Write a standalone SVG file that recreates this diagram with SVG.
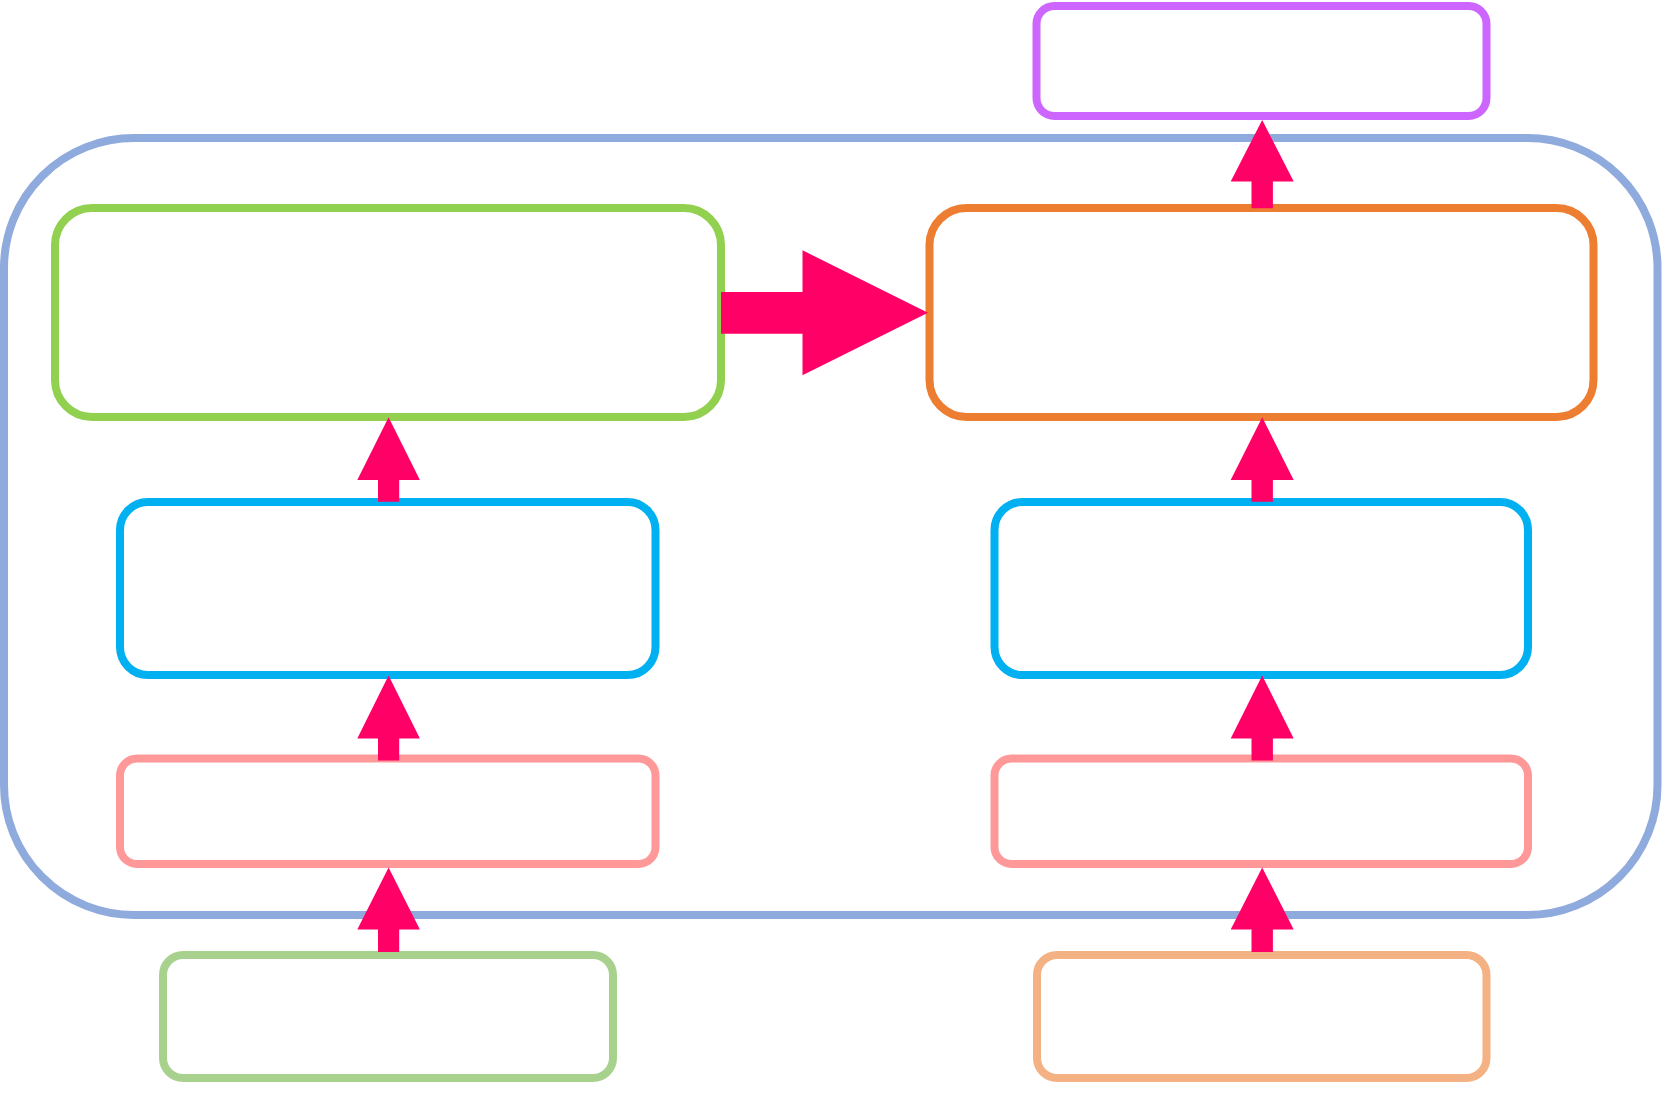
<svg xmlns="http://www.w3.org/2000/svg" width="1662" height="1096" viewBox="0 0 1662 1096">
<style>
.box{fill:none;stroke-width:8}
.arrow{fill:#FF0066;stroke:none}
</style>
<rect width="1662" height="1096" fill="#FFFFFF"/>
<g id="outer"><rect class="box" x="4" y="138" width="1653.5" height="777" rx="130" ry="130" stroke="#8FAADC"/></g>
<g id="green-main"><rect class="box" x="55" y="208" width="666" height="209" rx="37" ry="37" stroke="#92D050"/></g>
<g id="orange-main"><rect class="box" x="929.5" y="208" width="664" height="209" rx="37" ry="37" stroke="#ED7D31"/></g>
<g id="purple-top"><rect class="box" x="1036.5" y="6" width="450" height="110" rx="18" ry="18" stroke="#CC66FF"/></g>
<g id="blue-left"><rect class="box" x="120" y="502" width="535.5" height="173" rx="28" ry="28" stroke="#00B0F0"/></g>
<g id="blue-right"><rect class="box" x="994.5" y="502" width="533.5" height="173" rx="28" ry="28" stroke="#00B0F0"/></g>
<g id="pink-left"><rect class="box" x="120" y="758.5" width="535.5" height="105.5" rx="17" ry="17" stroke="#FF9999"/></g>
<g id="pink-right"><rect class="box" x="994.5" y="758.5" width="533.5" height="105.5" rx="17" ry="17" stroke="#FF9999"/></g>
<g id="green-bottom"><rect class="box" x="163" y="955" width="450" height="123" rx="20" ry="20" stroke="#A9D18E"/></g>
<g id="orange-bottom"><rect class="box" x="1037" y="955" width="449.5" height="123" rx="20" ry="20" stroke="#F4B183"/></g>
<g id="connectors">
<polygon class="arrow" points="721,292 802.5,292 802.5,250.3 928,312.7 802.5,375.3 802.5,333.7 721,333.7"/>
<polygon class="arrow" points="378,501.7 378,480 357.3,480 388.6,417.3 419.9,480 399.2,480 399.2,501.7"/>
<polygon class="arrow" points="378,760.4 378,738.5 357.3,738.5 388.6,675.5 419.9,738.5 399.2,738.5 399.2,760.4"/>
<polygon class="arrow" points="378,952 378,929.5 357.3,929.5 388.6,867.5 419.9,929.5 399.2,929.5 399.2,952"/>
<polygon class="arrow" points="1251.5,208.3 1251.5,181.5 1230.7,181.5 1262.2,120 1293.7,181.5 1272.9,181.5 1272.9,208.3"/>
<polygon class="arrow" points="1251.5,501.7 1251.5,480 1230.7,480 1262.2,417.3 1293.7,480 1272.9,480 1272.9,501.7"/>
<polygon class="arrow" points="1251.5,760.4 1251.5,738.5 1230.7,738.5 1262.2,675.5 1293.7,738.5 1272.9,738.5 1272.9,760.4"/>
<polygon class="arrow" points="1251.5,952 1251.5,929.5 1230.7,929.5 1262.2,867.5 1293.7,929.5 1272.9,929.5 1272.9,952"/>
</g>
</svg>
